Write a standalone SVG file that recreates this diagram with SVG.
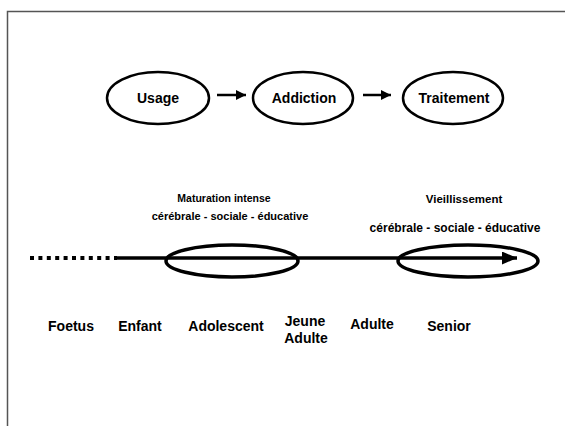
<svg xmlns="http://www.w3.org/2000/svg" width="565" height="426" viewBox="0 0 565 426">
<defs>
<style>
text{font-family:"Liberation Sans",Arial,sans-serif;font-weight:bold;fill:#000;text-anchor:middle}
.n{fill:none;stroke:#000;stroke-width:2.5}
.t{font-size:14px}
.ev{fill:none;stroke:#000;stroke-width:3.5}
</style>
<marker id="ah" viewBox="0 0 10 10" refX="10" refY="5" markerWidth="10" markerHeight="10" markerUnits="userSpaceOnUse" orient="auto"><path d="M0,0 L10,5 L0,10 Z" fill="#000"/></marker>
<marker id="ah2" viewBox="0 0 10 10" refX="10" refY="5" markerWidth="15" markerHeight="13" markerUnits="userSpaceOnUse" orient="auto" preserveAspectRatio="none"><path d="M0,0 L10,5 L0,10 Z" fill="#000"/></marker>
</defs>
<rect width="565" height="426" fill="#fff"/>
<path d="M7.5,426 V11.5 H565" fill="none" stroke="#555" stroke-width="1.5"/>
<g id="usage"><ellipse class="n" cx="158" cy="98" rx="51" ry="26"/><text class="t" x="158" y="103">Usage</text></g>
<g id="addiction"><ellipse class="n" cx="303" cy="98" rx="50" ry="26"/><text class="t" x="304" y="103">Addiction</text></g>
<g id="traitement"><ellipse class="n" cx="453" cy="98" rx="50" ry="26"/><text class="t" x="454" y="103">Traitement</text></g>
<g id="connectors">
<line x1="217" y1="95" x2="246" y2="95" stroke="#000" stroke-width="2.5" marker-end="url(#ah)"/>
<line x1="363" y1="95" x2="391" y2="95" stroke="#000" stroke-width="2.5" marker-end="url(#ah)"/>
</g>
<g id="timeline">
<line x1="30" y1="258" x2="117" y2="258" stroke="#000" stroke-width="4" stroke-dasharray="4,4.4"/>
<line x1="117" y1="258" x2="517" y2="258" stroke="#000" stroke-width="3.5" marker-end="url(#ah2)"/>
</g>
<g id="adolescence"><ellipse class="ev" cx="232" cy="261" rx="66" ry="16"/>
<text x="224" y="202" font-size="10.5px">Maturation intense</text>
<text x="230" y="220" font-size="11px">cérébrale - sociale - éducative</text></g>
<g id="senior-phase"><ellipse class="ev" cx="468" cy="261" rx="70" ry="16"/>
<text x="464" y="203" font-size="11.5px">Vieillissement</text>
<text x="455" y="232" font-size="12px">cérébrale - sociale - éducative</text></g>
<g id="labels" class="t">
<text class="t" x="71" y="331">Foetus</text>
<text class="t" x="140" y="331">Enfant</text>
<text class="t" x="226" y="331">Adolescent</text>
<text class="t" x="305" y="326">Jeune</text>
<text class="t" x="306" y="343">Adulte</text>
<text class="t" x="372" y="329">Adulte</text>
<text class="t" x="449" y="331">Senior</text>
</g>
</svg>
